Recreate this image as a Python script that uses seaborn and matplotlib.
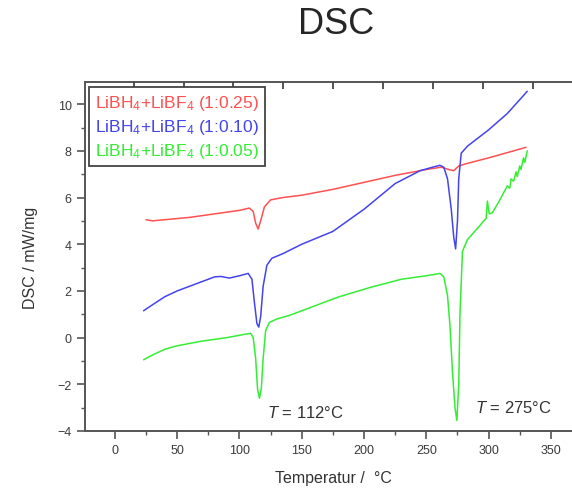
import matplotlib

matplotlib.use("Agg")

import matplotlib.pyplot as plt
import pandas as pd
import seaborn as sns
from matplotlib.ticker import MultipleLocator

# sample 1:0.25 (red)
t_025 = [25, 30, 40, 60, 80, 100, 108, 111, 113, 115, 117, 120, 125, 135, 150,
         175, 200, 225, 250, 262, 268, 272, 276, 282, 300, 330]
dsc_025 = [5.05, 5.0, 5.05, 5.15, 5.3, 5.45, 5.55, 5.4, 4.9, 4.65, 5.0, 5.6, 5.9,
           6.0, 6.1, 6.35, 6.65, 6.95, 7.2, 7.3, 7.2, 7.15, 7.35, 7.45, 7.7, 8.15]

# sample 1:0.10 (blue)
t_010 = [23, 30, 40, 50, 60, 70, 80, 85, 92, 100, 107, 110, 112, 114, 115.5, 117,
         119, 122, 126, 135, 150, 175, 200, 225, 245, 255, 261, 264, 267, 270, 272,
         273.5, 275, 276, 278, 283, 300, 315, 331]
dsc_010 = [1.15, 1.4, 1.75, 2.0, 2.2, 2.4, 2.6, 2.62, 2.55, 2.65, 2.75, 2.5, 1.5,
           0.6, 0.45, 0.9, 2.2, 3.1, 3.4, 3.6, 4.0, 4.55, 5.5, 6.6, 7.15, 7.3, 7.38,
           7.3, 6.8, 5.5, 4.3, 3.8, 5.0, 6.8, 7.9, 8.2, 8.9, 9.6, 10.55]

# sample 1:0.05 (green)
t_005 = [23, 30, 40, 50, 70, 90, 105, 109, 111, 113, 114.5, 116, 117.5, 119, 121,
         124, 130, 140, 155, 180, 205, 230, 250, 261, 264, 267, 269, 271, 273, 274.5,
         276, 277, 279, 283, 288, 293, 296, 298, 299, 300.5, 303, 308, 312, 315, 317,
         318, 320, 322, 323, 325, 326, 328, 329, 331]
dsc_005 = [-0.95, -0.75, -0.5, -0.35, -0.15, 0.0, 0.15, 0.18, 0.0, -0.9, -2.2, -2.6,
           -2.2, -0.9, 0.3, 0.65, 0.8, 0.95, 1.25, 1.75, 2.15, 2.5, 2.65, 2.75, 2.6,
           1.8, 0.5, -1.5, -3.0, -3.55, -2.0, 1.0, 3.7, 4.2, 4.5, 4.8, 5.0, 5.1, 5.85,
           5.3, 5.35, 5.8, 6.2, 6.5, 6.4, 6.8, 6.7, 7.1, 6.9, 7.35, 7.2, 7.7, 7.5, 8.0]

labels = ["LiBH$_4$+LiBF$_4$ (1:0.25)",
          "LiBH$_4$+LiBF$_4$ (1:0.10)",
          "LiBH$_4$+LiBF$_4$ (1:0.05)"]
colors = ["#ff5050", "#4444ee", "#33ee33"]
# second (unlabelled) scale along the top edge
top_ticks = [15, 55.1, 95.1, 135.2, 175.3, 215.3, 255.4, 295.5, 335.5]

frames = []
for lab, t, d in zip(labels, [t_025, t_010, t_005], [dsc_025, dsc_010, dsc_005]):
    frames.append(pd.DataFrame({"T": t, "DSC": d, "sample": lab}))
df = pd.concat(frames, ignore_index=True)

sns.set_style("ticks")
plt.rcParams["font.family"] = ["Liberation Sans", "DejaVu Sans"]
plt.rcParams["mathtext.fontset"] = "custom"
plt.rcParams["mathtext.rm"] = "Liberation Sans"
plt.rcParams["mathtext.it"] = "Liberation Sans:italic"

axis_grey = "#555555"
fig = plt.figure(figsize=(5.72, 4.89), dpi=100)
ax = fig.add_axes([0.1486, 0.1166, 0.869, 0.7137])

sns.lineplot(data=df, x="T", y="DSC", hue="sample", palette=colors,
             estimator=None, sort=False, linewidth=1.1, ax=ax)

ax.set_xlim(-24, 375)
ax.set_ylim(-4, 10.95)
ax.xaxis.set_major_locator(MultipleLocator(50))
ax.xaxis.set_minor_locator(MultipleLocator(25))
ax.yaxis.set_major_locator(MultipleLocator(2))
ax.yaxis.set_minor_locator(MultipleLocator(1))
ax.tick_params(which="major", direction="out", length=6, width=1.2,
               color=axis_grey, labelsize=9, labelcolor="#3a3a3a")
ax.tick_params(which="minor", direction="out", length=3, width=1.0, color=axis_grey)
for side in ["left", "bottom", "top", "right"]:
    ax.spines[side].set_visible(True)
    ax.spines[side].set_color(axis_grey)
    ax.spines[side].set_linewidth(1.4)

# inward tick marks of the top scale
ax.vlines(top_ticks, 0.98, 1.0, transform=ax.get_xaxis_transform(),
          color="#444444", linewidth=1.3, clip_on=False, zorder=3)

ax.set_xlabel("Temperatur /  °C", fontsize=11.5, color="#333333", labelpad=10)
ax.set_ylabel("DSC / mW/mg", fontsize=11.5, color="#333333", labelpad=14)

ax.text(122, -3.17, "$T$ = 112°C", fontsize=12, color="#333333", ha="left", va="center")
ax.text(289, -2.99, "$T$ = 275°C", fontsize=12, color="#333333", ha="left", va="center")

leg = ax.legend(loc="upper left", bbox_to_anchor=(0.008, 0.986), borderaxespad=0,
                handlelength=0, handletextpad=0, labelcolor="linecolor",
                fontsize=12.5, fancybox=False, framealpha=1, labelspacing=0.3,
                borderpad=0.35)
for h in leg.legend_handles:
    h.set_visible(False)
leg.get_frame().set_edgecolor("#444444")
leg.get_frame().set_linewidth(1.3)
leg.set_zorder(4)

fig.text(0.587, 1 - 25 / 489, "DSC", fontsize=26, ha="center", va="center")

fig.savefig("out.png", dpi=100)
plt.close(fig)
